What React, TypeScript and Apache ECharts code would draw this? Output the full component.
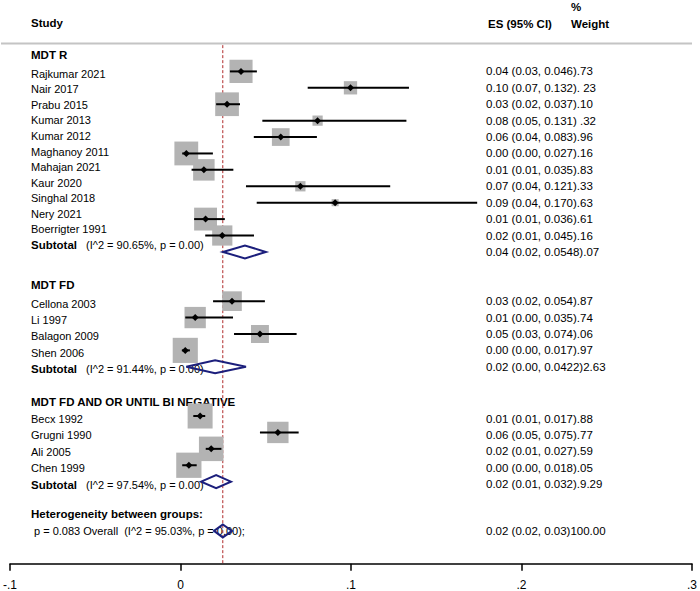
import React, { useEffect, useRef } from 'react';
import * as echarts from 'echarts';

// ---- data ----
const groupNames = ['MDT R', 'MDT FD', 'MDT FD AND OR UNTIL BI NEGATIVE'];

const studyNames = [
  ['Rajkumar 2021', 'Nair 2017', 'Prabu 2015', 'Kumar 2013', 'Kumar 2012', 'Maghanoy 2011', 'Mahajan 2021', 'Kaur 2020', 'Singhal 2018', 'Nery 2021', 'Boerrigter 1991'],
  ['Cellona 2003', 'Li 1997', 'Balagon 2009', 'Shen 2006'],
  ['Becx 1992', 'Grugni 1990', 'Ali 2005', 'Chen 1999'],
];

const studyEs = [
  [0.0355, 0.0997, 0.0273, 0.0804, 0.0588, 0.0034, 0.0137, 0.0703, 0.0907, 0.0147, 0.0245],
  [0.0302, 0.0086, 0.0466, 0.0028],
  [0.0115, 0.0571, 0.018, 0.0049],
];
const studyLo = [
  [0.029, 0.0746, 0.0209, 0.048, 0.043, 0.001, 0.0065, 0.0384, 0.0447, 0.008, 0.0145],
  [0.0191, 0.0028, 0.0314, 0.0008],
  [0.0075, 0.0466, 0.0148, 0.001],
];
const studyHi = [
  [0.0448, 0.134, 0.0349, 0.1325, 0.08, 0.019, 0.031, 0.123, 0.174, 0.026, 0.0431],
  [0.0495, 0.0308, 0.0681, 0.0055],
  [0.0145, 0.0693, 0.024, 0.0095],
];
const studyWeights = [
  [6.73, 2.23, 7.1, 1.32, 3.96, 7.16, 5.83, 1.33, 0.63, 6.61, 5.16],
  [4.87, 5.74, 4.06, 7.97],
  [7.88, 5.77, 7.59, 8.05],
];
const studyLabels = [
  ['0.04 (0.03, 0.046).73', '0.10 (0.07, 0.132). 23', '0.03 (0.02, 0.037).10', '0.08 (0.05, 0.131) .32', '0.06 (0.04, 0.083).96', '0.00 (0.00, 0.027).16', '0.01 (0.01, 0.035).83', '0.07 (0.04, 0.121).33', '0.09 (0.04, 0.170).63', '0.01 (0.01, 0.036).61', '0.02 (0.01, 0.045).16'],
  ['0.03 (0.02, 0.054).87', '0.01 (0.00, 0.035).74', '0.05 (0.03, 0.074).06', '0.00 (0.00, 0.017).97'],
  ['0.01 (0.01, 0.017).88', '0.06 (0.05, 0.075).77', '0.02 (0.01, 0.027).59', '0.00 (0.00, 0.018).05'],
];

const subEs = [0.0378, 0.0203, 0.0209];
const subLo = [0.0249, 0.0034, 0.0121];
const subHi = [0.0501, 0.0384, 0.0296];
const subHet = ['(I^2 = 90.65%, p = 0.00)', '(I^2 = 91.44%, p = 0.00)', '(I^2 = 97.54%, p = 0.00)'];
const subLabels = ['0.04 (0.02, 0.0548).07', '0.02 (0.00, 0.0422)2.63', '0.02 (0.01, 0.032).9.29'];

const overallEs = 0.0248;
const overallLo = 0.0197;
const overallHi = 0.0302;
const overallText = 'p = 0.083 Overall  (I^2 = 95.03%, p = 0.00);';
const overallLabel = '0.02 (0.02, 0.03)100.00';
const hetTitle = 'Heterogeneity between groups:';

const xTickLabels = ['-.1', '0', '.1', '.2', '.3'];

// ---- style ----
const FONT = '"Liberation Sans", Arial, Helvetica, sans-serif';
const BOX_COLOR = '#b3b3b3';
const DIAMOND_COLOR = '#1c1f7c';
const REF_COLOR = '#b02a2a';
const BOX_SCALE = 8.9;

export default function App() {
  const ref = useRef<HTMLDivElement>(null);

  useEffect(() => {
    const chart = echarts.init(ref.current!, null, { renderer: 'svg' });

    // assign a row index to every line of the plot
    let r = 0;
    const headerRows: number[] = [];
    const studyRows: number[][] = [];
    const subRows: number[] = [];
    groupNames.forEach((_, g) => {
      headerRows.push(r);
      r += 1;
      studyRows.push(studyNames[g].map(() => r++));
      subRows.push(r);
      r += 2;
    });
    const hetRow = r;
    const overallRow = r + 1;

    const studyData: number[][] = [];
    groupNames.forEach((_, g) => {
      studyNames[g].forEach((__, i) => {
        studyData.push([studyEs[g][i], studyRows[g][i], studyLo[g][i], studyHi[g][i], studyWeights[g][i]]);
      });
    });
    const diamondData: number[][] = subEs.map((v, g) => [v, subRows[g], subLo[g], subHi[g]]);
    diamondData.push([overallEs, overallRow, overallLo, overallHi]);

    chart.setOption({
      animation: false,
      backgroundColor: '#ffffff',
      grid: { left: 7, right: 8, top: 5.77, height: 557.94 },
      xAxis: {
        type: 'value',
        min: -0.1,
        max: 0.3,
        interval: 0.1,
        axisLine: { show: true, onZero: false, lineStyle: { color: '#000', width: 1.5 } },
        axisTick: { show: true, inside: false, length: 7, lineStyle: { color: '#000', width: 1.5 } },
        axisLabel: {
          margin: 15,
          color: '#000',
          fontSize: 12,
          fontFamily: FONT,
          formatter: (_v: number, idx: number) => xTickLabels[idx],
        },
        splitLine: { show: false },
      },
      yAxis: { type: 'value', min: -3, max: 31, inverse: true, show: false },
      series: [
        {
          type: 'line',
          z: 1,
          silent: true,
          showSymbol: false,
          data: [[overallEs, -0.6], [overallEs, 31]],
          lineStyle: { color: REF_COLOR, width: 1, type: [3, 2] },
        },
        {
          type: 'custom',
          z: 2,
          silent: true,
          data: studyData,
          encode: { x: 0, y: 1 },
          renderItem: (_p: any, api: any) => {
            const c = api.coord([api.value(0), api.value(1)]);
            const side = BOX_SCALE * Math.sqrt(api.value(4));
            return {
              type: 'rect',
              shape: { x: c[0] - side / 2, y: c[1] - side / 2, width: side, height: side },
              style: { fill: BOX_COLOR },
            };
          },
        },
        {
          type: 'custom',
          z: 3,
          silent: true,
          data: studyData,
          encode: { x: 0, y: 1 },
          renderItem: (_p: any, api: any) => {
            const c = api.coord([api.value(0), api.value(1)]);
            const lo = api.coord([api.value(2), api.value(1)]);
            const hi = api.coord([api.value(3), api.value(1)]);
            const m = 3.5;
            return {
              type: 'group',
              children: [
                {
                  type: 'line',
                  shape: { x1: lo[0], y1: lo[1], x2: hi[0], y2: hi[1] },
                  style: { stroke: '#000', lineWidth: 2 },
                },
                {
                  type: 'polygon',
                  shape: { points: [[c[0] - m, c[1]], [c[0], c[1] - m], [c[0] + m, c[1]], [c[0], c[1] + m]] },
                  style: { fill: '#000' },
                },
              ],
            };
          },
        },
        {
          type: 'custom',
          z: 4,
          silent: true,
          data: diamondData,
          encode: { x: 0, y: 1 },
          renderItem: (_p: any, api: any) => {
            const c = api.coord([api.value(0), api.value(1)]);
            const lo = api.coord([api.value(2), api.value(1)]);
            const hi = api.coord([api.value(3), api.value(1)]);
            const h = 6.5;
            return {
              type: 'polygon',
              shape: { points: [[lo[0], lo[1]], [c[0], c[1] - h], [hi[0], hi[1]], [c[0], c[1] + h]] },
              style: { fill: 'none', stroke: DIAMOND_COLOR, lineWidth: 2 },
            };
          },
        },
      ],
    });

    const py = (row: number) => (chart.convertToPixel({ gridIndex: 0 }, [0, row]) as number[])[1];

    const txt = (text: string, x: number, y: number, size: number, bold = false) => ({
      type: 'text',
      silent: true,
      x,
      y,
      style: {
        text,
        fill: '#000',
        fontSize: size,
        fontFamily: FONT,
        fontWeight: bold ? 'bold' : 'normal',
        align: 'left',
        verticalAlign: 'middle',
      },
    });

    const LEFT = 31;
    const RIGHT = 486;
    const graphics: any[] = [
      txt('Study', LEFT, 23, 11.5, true),
      txt('ES (95% CI)', 488, 24, 11.5, true),
      txt('%', 571, 7, 11.5, true),
      txt('Weight', 571, 24, 11.5, true),
      {
        type: 'line',
        silent: true,
        shape: { x1: 1, y1: 43.5, x2: 692, y2: 43.5 },
        style: { stroke: '#c4c4c4', lineWidth: 2 },
      },
    ];

    // the left column of the first block is set slightly tighter than its rows
    const leftY = (g: number, row: number) => {
      if (g === 0) return py(headerRows[0]) + 3 + (py(row) - py(headerRows[0])) * 0.95;
      return py(row) + (g === 1 ? 2.5 : 3);
    };
    const rightY = (g: number, row: number) => py(row) + (g === 2 ? 2.5 : 0);

    groupNames.forEach((name, g) => {
      graphics.push(txt(name, LEFT, py(headerRows[g]) + (g === 2 ? 2 : 0), 11.5, true));
      studyNames[g].forEach((s, i) => {
        graphics.push(txt(s, LEFT, leftY(g, studyRows[g][i]), 11));
        graphics.push(txt(studyLabels[g][i], RIGHT, rightY(g, studyRows[g][i]), 11.5));
      });
      const sy = leftY(g, subRows[g]);
      graphics.push(txt('Subtotal', LEFT, sy, 11.5, true));
      graphics.push(txt(subHet[g], 86, sy, 11));
      graphics.push(txt(subLabels[g], RIGHT, rightY(g, subRows[g]), 11.5));
    });

    graphics.push(txt(hetTitle, LEFT, py(hetRow), 11.5, true));
    graphics.push(txt(overallText, 34, py(overallRow), 11));
    graphics.push(txt(overallLabel, RIGHT, py(overallRow), 11.5));

    chart.setOption({ graphic: graphics });

    return () => chart.dispose();
  }, []);

  return (
    <div
      ref={ref}
      style={{ position: 'fixed', left: 0, top: 0, width: 700, height: 591, background: '#fff' }}
    />
  );
}
